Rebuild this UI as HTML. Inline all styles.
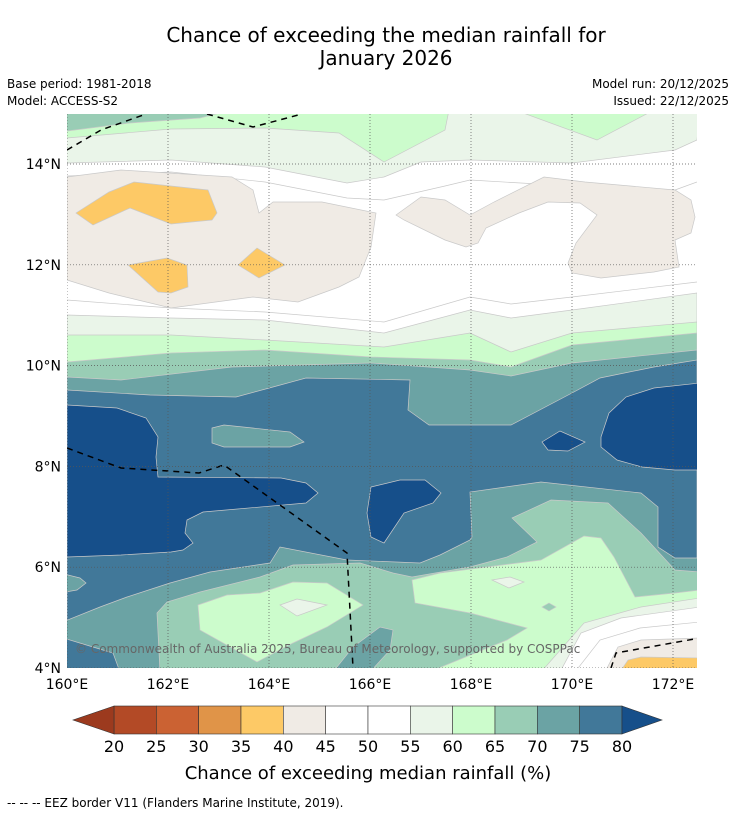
<!DOCTYPE html>
<html><head><meta charset="utf-8">
<style>
html,body{margin:0;padding:0;background:#fff;}
body{width:736px;height:816px;overflow:hidden;font-family:"Liberation Sans",sans-serif;}
svg text{font-family:"DejaVu Sans","Liberation Sans",sans-serif;}
</style></head>
<body>
<svg id="chart" width="736" height="816" viewBox="0 0 736 816" xmlns="http://www.w3.org/2000/svg">
<text x="386" y="42" font-size="20" text-anchor="middle" fill="#000">Chance of exceeding the median rainfall for</text>
<text x="386" y="65" font-size="20" text-anchor="middle" fill="#000">January 2026</text>
<text x="7" y="88" font-size="12">Base period: 1981-2018</text>
<text x="7" y="105" font-size="12">Model: ACCESS-S2</text>
<text x="729" y="88" font-size="12" text-anchor="end">Model run: 20/12/2025</text>
<text x="729" y="105" font-size="12" text-anchor="end">Issued: 22/12/2025</text>

<defs><clipPath id="mapclip"><rect x="67" y="114" width="630" height="554"/></clipPath></defs>
<g clip-path="url(#mapclip)" stroke="#c9c9c9" stroke-width="0.7">
<rect x="67" y="114" width="630" height="554" fill="#ffffff" stroke="none"/>
<!-- top region -->
<polygon fill="#eaf5e9" points="60,110 700,110 697,140 675,150 572,163 470,160 421,162 384,177 347,183 265,167 171,160 67,163"/>
<polygon fill="#ccfccc" points="60,110 449,110 445,130 384,162 339,133 265,128 171,129 67,138"/>
<polygon fill="#ccfccc" points="515,110 654,110 597,140"/>
<polygon fill="#99cdb5" points="60,110 232,110 200,118 130,123 67,131"/>
<polyline fill="none" points="67,176 171,172 265,182 347,198 384,200 445,186 470,180 572,186 675,190 697,182"/>
<polyline fill="none" points="67,300 171,308 265,312 384,322 470,297 511,304 572,297 697,282"/>
<polygon fill="#f0ebe5" points="67,177 121,170 232,177 253,190 259,213 273,202 322,202 376,213 371,247 359,277 339,287 298,302 253,297 171,308 109,293 67,280"/>
<polygon fill="#f0ebe5" points="396,215 421,197 445,200 470,215 494,202 544,177 585,182 675,190 691,200 695,217 691,233 675,240 679,267 654,272 601,278 572,273 568,263 576,243 597,215 580,203 548,202 519,213 486,228 478,243 466,247 445,240 404,220"/>
<polygon fill="#fdc966" points="76,213 109,192 134,182 208,190 217,213 212,220 171,224 130,208 93,225"/>
<polygon fill="#fdc966" points="128,265 167,258 187,265 188,287 171,293 158,292"/>
<polygon fill="#fdc966" points="238,265 257,248 285,265 259,278"/>
<!-- lower bands -->
<polygon fill="#eaf5e9" points="67,315 171,318 265,320 384,333 470,310 511,318 572,310 697,293 697,668 67,668"/>
<polygon fill="#ccfccc" points="67,335 171,335 265,340 384,347 470,333 511,352 572,333 697,322 697,668 67,668"/>
<polygon fill="#99cdb5" points="67,362 171,353 265,350 371,357 470,360 511,367 572,345 697,333 697,668 67,668"/>
<polygon fill="#6ba3a4" points="67,377 121,380 232,367 371,363 470,370 511,376 572,363 697,350 697,668 67,668"/>
<polygon fill="#417899" points="67,390 150,395 236,397 273,387 306,378 410,380 408,410 429,425 511,425 572,393 600,378 654,367 697,360 697,668 67,668"/>
<polygon fill="#164f8a" points="67,405 117,408 146,418 158,437 156,457 158,477 281,478 306,483 318,493 306,503 203,512 187,520 185,533 193,543 183,550 171,552 121,555 67,557"/>
<polygon fill="#164f8a" points="371,487 400,480 425,480 441,493 433,503 404,513 384,543 371,537 367,513"/>
<polygon fill="#164f8a" points="542,442 560,431 585,442 568,451 548,450"/>
<polygon fill="#164f8a" points="601,437 609,413 626,397 654,388 700,383 700,470 675,470 642,467 617,460 601,447"/>
<polygon fill="#6ba3a4" points="212,428 224,425 290,432 304,442 290,447 224,447 212,443"/>
<!-- bottom -->
<polygon fill="#6ba3a4" points="60,573 80,578 86,583 77,590 60,593"/>
<polygon fill="#6ba3a4" points="60,623 100,607 127,597 170,583 210,572 270,563 280,547 347,560 420,563 440,555 470,540 472,537 470,492 541,482 641,493 658,507 658,547 675,558 700,558 700,672 60,672"/>
<polygon fill="#417899" points="60,637 93,647 113,653 120,672 60,672"/>
<polygon fill="#99cdb5" points="160,672 157,613 167,602 200,592 260,577 293,565 360,563 393,573 412,577 470,567 507,557 537,542 512,518 551,500 608,503 641,533 675,570 700,572 700,672"/>
<polygon fill="#6ba3a4" points="333,672 353,647 380,627 393,630 390,650 370,672"/>
<polygon fill="#ccfccc" points="198,605 227,595 260,593 293,582 327,583 363,605 327,627 293,643 257,662 200,630"/>
<polygon fill="#eaf5e9" points="280,605 297,599 327,605 297,616"/>
<polygon fill="#ccfccc" points="412,580 440,573 541,560 584,536 601,538 614,557 635,597 675,593 700,590 700,672 429,672 507,640 527,628 470,613 415,603"/>
<polygon fill="#eaf5e9" points="492,580 510,577 524,582 509,588"/>
<polygon fill="#99cdb5" points="542,607 549,603 556,607 549,611"/>
<polygon fill="#eaf5e9" points="541,672 584,623 641,607 700,598 700,672"/>
<polygon fill="#ffffff" points="560,672 581,633 621,618 700,607 700,672"/>
<polyline fill="none" points="575,672 600,640 640,628 700,622"/>
<polygon fill="#f0ebe5" points="605,672 618,647 641,640 700,638 700,672"/>
<polygon fill="#fdc966" points="620,672 628,660 641,657 700,658 700,672"/>
<!-- EEZ dashed borders -->
<g fill="none" stroke="#000" stroke-width="1.5" stroke-dasharray="6,5">
<polyline points="67,150 101,130 146,114"/>
<polyline points="207,114 253,127 302,114"/>
<polyline points="67,448 121,468 199,473 224,465 347,553 353,668"/>
<polyline points="611,668 616,653 700,638"/>
</g>
<!-- grid -->
<g id="grid" stroke="#555" stroke-width="0.7" stroke-dasharray="1,2"></g>
<text x="75" y="653" font-size="12" fill="#666" stroke="none">© Commonwealth of Australia 2025, Bureau of Meteorology, supported by COSPPac</text>
</g>
<rect x="67" y="114" width="630" height="554" fill="none" stroke="none"/>
<g id="axes"></g>
<g id="colorbar"></g>
<text x="368" y="779" font-size="18" text-anchor="middle">Chance of exceeding median rainfall (%)</text>
<text x="7" y="807" font-size="12">--  --  -- EEZ border V11 (Flanders Marine Institute, 2019).</text>
</svg>
<script>
const levels = [20,25,30,35,40,45,50,55,60,65,70,75,80];
const binColors = ["#b34a26","#cb6233","#e09448","#fdc966","#f0ebe5","#ffffff","#ffffff","#eaf5e9","#ccfccc","#99cdb5","#6ba3a4","#417899"];
const lowExtendColor = "#9c3a1e";
const highExtendColor = "#164f8a";
const lonTicks = [160,162,164,166,168,170,172];
const latTicks = [4,6,8,10,12,14];
const lonLabels = ["160°E","162°E","164°E","166°E","168°E","170°E","172°E"];
const latLabels = ["4°N","6°N","8°N","10°N","12°N","14°N"];

const NS="http://www.w3.org/2000/svg";
function xLon(l){return 67+(l-160)*50.5;}
function yLat(l){return 668-(l-4)*50.4;}
const cbX0=114, cbX1=622, cbY=706, cbH=28;
function xLevel(v){return cbX0+(v-levels[0])/(levels[levels.length-1]-levels[0])*(cbX1-cbX0);}
function mk(tag,attrs,parent){const e=document.createElementNS(NS,tag);for(const k in attrs)e.setAttribute(k,attrs[k]);parent.appendChild(e);return e;}

const grid=document.getElementById('grid');
lonTicks.forEach(l=>{const e=mk('line',{x1:xLon(l),x2:xLon(l),y1:114,y2:668},grid);

});
latTicks.forEach(l=>{const e=mk('line',{x1:67,x2:697,y1:yLat(l),y2:yLat(l)},grid);

});

const axes=document.getElementById('axes');
lonTicks.forEach((l,i)=>{const t=mk('text',{x:xLon(l),y:689,'font-size':14,'text-anchor':'middle'},axes);t.textContent=lonLabels[i];

});
latTicks.forEach((l,i)=>{const t=mk('text',{x:61,y:yLat(l)+5,'font-size':14,'text-anchor':'end'},axes);t.textContent=latLabels[i];

});

const cb=document.getElementById('colorbar');
binColors.forEach((c,i)=>{const x0=xLevel(levels[i]),x1=xLevel(levels[i+1]);
const r=mk('rect',{x:x0,y:cbY,width:x1-x0,height:cbH,fill:c,stroke:'#333','stroke-width':0.6},cb);

});
const lt=mk('polygon',{points:`${cbX0},${cbY} ${cbX0},${cbY+cbH} 73,${cbY+cbH/2}`,fill:lowExtendColor,stroke:'#333','stroke-width':0.6},cb);


const ht=mk('polygon',{points:`${cbX1},${cbY} ${cbX1},${cbY+cbH} 662,${cbY+cbH/2}`,fill:highExtendColor,stroke:'#333','stroke-width':0.6},cb);


levels.forEach(v=>{const t=mk('text',{x:xLevel(v),y:752,'font-size':16,'text-anchor':'middle'},cb);t.textContent=v;

});
</script>
</body></html>
